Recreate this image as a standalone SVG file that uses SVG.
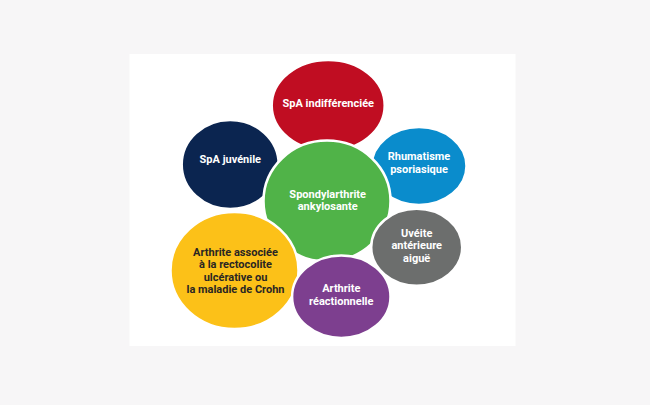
<svg xmlns="http://www.w3.org/2000/svg" width="650" height="405" viewBox="0 0 650 405">
<style>
.n{stroke:#ffffff;stroke-width:2.5}
.t{font-family:Roboto,"Liberation Sans",sans-serif;font-weight:bold;font-size:11px;fill:#ffffff;text-anchor:middle}
.d{fill:#2a2623}
</style>
<rect x="0" y="0" width="650" height="405" fill="#f7f6f7"/>
<rect x="129.5" y="54" width="386" height="292" fill="#ffffff"/>
<g id="connectors"></g>
<g id="spa-indiff">
<ellipse class="n" cx="328.2" cy="105.5" rx="56.5" ry="45.5" fill="#c00d22"/>
<text class="t" x="328.3" y="106.8">SpA indifférenciée</text>
</g>
<g id="spa-juvenile">
<ellipse class="n" cx="230.2" cy="164.5" rx="48.5" ry="44.5" fill="#0b2550"/>
<text class="t" x="230.3" y="163">SpA juvénile</text>
</g>
<g id="rhumatisme">
<ellipse class="n" cx="419" cy="166" rx="47.5" ry="39" fill="#0a8ccc"/>
<text class="t" x="419" y="160">Rhumatisme</text>
<text class="t" x="419" y="172.7">psoriasique</text>
</g>
<g id="spondylarthrite">
<ellipse class="n" cx="327" cy="201" rx="63.5" ry="60.5" fill="#50b348"/>
<text class="t" x="327.7" y="197.7">Spondylarthrite</text>
<text class="t" x="327.7" y="210.3">ankylosante</text>
</g>
<g id="arthrite-associee">
<ellipse class="n" cx="234.5" cy="270.5" rx="64" ry="58.5" fill="#fcc118"/>
<text class="t d" x="235.5" y="255.5">Arthrite associée</text>
<text class="t d" x="235.5" y="268">à la rectocolite</text>
<text class="t d" x="235.5" y="280.5">ulcérative ou</text>
<text class="t d" x="235.5" y="293">la maladie de Crohn</text>
</g>
<g id="uveite">
<ellipse class="n" cx="416.7" cy="247.2" rx="45.5" ry="38.5" fill="#6c6e6d"/>
<text class="t" x="416.7" y="236.7">Uvéite</text>
<text class="t" x="416.7" y="249.3">antérieure</text>
<text class="t" x="416.7" y="262">aiguë</text>
</g>
<g id="arthrite-reactionnelle">
<ellipse class="n" cx="341.3" cy="296.7" rx="49.2" ry="41.2" fill="#7d3f8f"/>
<text class="t" x="341.3" y="292.3">Arthrite</text>
<text class="t" x="341.3" y="304.5">réactionnelle</text>
</g>
</svg>
